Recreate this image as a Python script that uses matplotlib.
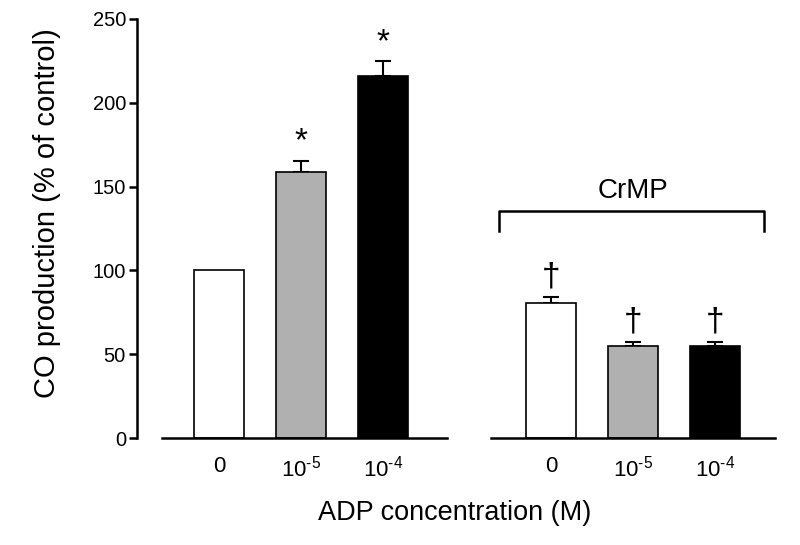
import numpy as np
import matplotlib
matplotlib.use('Agg')
import matplotlib.pyplot as plt

plt.rcParams['font.family'] = ['Liberation Sans', 'DejaVu Sans']
plt.rcParams['mathtext.fontset'] = 'custom'
plt.rcParams['mathtext.rm'] = 'Liberation Sans'
plt.rcParams['mathtext.default'] = 'regular'

# data
labels = ['0', r'$10^{\text{-5}}$', r'$10^{\text{-4}}$']
colors = ['white', '#b0b0b0', 'black']
ctrl_mean = [100, 159, 216]
ctrl_err = [0, 6.5, 9]
ctrl_marks = ['', '*', '*']
crmp_mean = [80.7, 54.8, 54.9]
crmp_err = [3.6, 2.4, 2.4]
crmp_marks = ['\u2020', '\u2020', '\u2020']

fig = plt.figure(figsize=(8, 5.45), dpi=100)
bot = (545 - 438) / 545
h = 419 / 545
ax1 = fig.add_axes([162 / 800, bot, (447 - 162) / 800, h])
ax2 = fig.add_axes([491 / 800, bot, (775 - 491) / 800, h])

x = np.arange(3)
def draw(ax, mean, err, marks, dy, mark_size):
    ax.bar(x, mean, width=0.61, color=colors, edgecolor='black', linewidth=1.2, zorder=2)
    err = np.array(err)
    has = err > 0
    ax.errorbar(x[has], np.array(mean)[has], yerr=[np.zeros(has.sum()), err[has]],
                fmt='none', ecolor='black', elinewidth=1.5, capsize=5.5,
                capthick=1.5, zorder=1)
    for xi, m, e, s in zip(x, mean, err, marks):
        if s:
            ax.text(xi, m + e + dy, s, ha='center', va='center', fontsize=mark_size)
    ax.set_ylim(0, 250)
    ax.set_xticks(x)
    ax.set_xticklabels(labels, fontsize=16)
    ax.tick_params(axis='x', length=0, pad=13)
    for s in ['top', 'right']:
        ax.spines[s].set_visible(False)
    ax.spines['bottom'].set_linewidth(1.8)

draw(ax1, ctrl_mean, ctrl_err, ctrl_marks, 11, 24)
draw(ax2, crmp_mean, crmp_err, crmp_marks, 12, 24)
ax1.set_xlim(-0.70, 2.78)
ax2.set_xlim(-0.73, 2.73)

ax1.spines['left'].set_position(('outward', 18))
ax1.spines['left'].set_linewidth(1.8)
ax1.set_yticks(np.arange(0, 251, 50))
ax1.tick_params(axis='y', labelsize=14.5, length=6, width=1.8, pad=2)

ax2.spines['left'].set_visible(False)
ax2.set_yticks([])

# CrMP bracket
bx = [-0.634, -0.634, 2.60, 2.60]
by = [123.5, 135.4, 135.4, 123.5]
ax2.plot(bx, by, color='black', linewidth=1.8, clip_on=False)
ax2.text(1.0, 147.5, 'CrMP', ha='center', va='center', fontsize=20)

fig.text(47 / 800, 1 - 213 / 545, 'CO production (% of control)', rotation=90,
         ha='center', va='center', fontsize=21)
fig.text(455 / 800, 1 - 513 / 545, 'ADP concentration (M)', ha='center', va='center', fontsize=19.5)

fig.savefig('out.png', dpi=100)
